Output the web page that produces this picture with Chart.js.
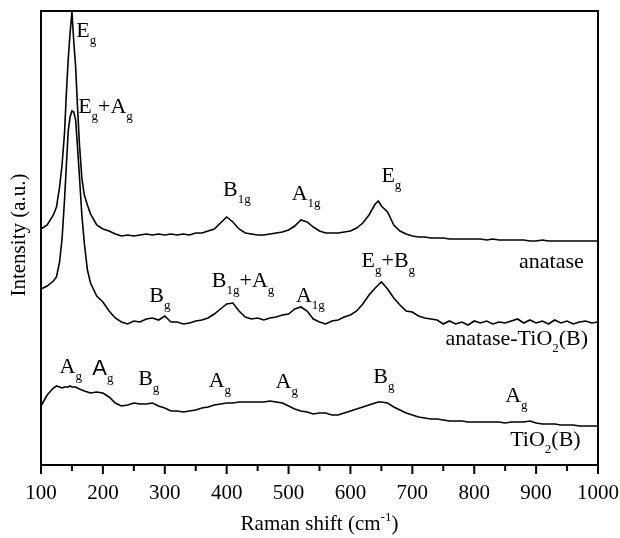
<!DOCTYPE html>
<html>
<head>
<meta charset="utf-8">
<title>Raman spectra</title>
<script src="https://cdn.jsdelivr.net/npm/chart.js@4.4.1/dist/chart.umd.min.js"></script>
<style>
  html, body { margin: 0; padding: 0; background: #fff; }
  #wrap { width: 620px; height: 538px; position: relative; }
</style>
</head>
<body>
<div id="wrap"><canvas id="raman"></canvas></div>
<script>
// Raman shift (cm-1), denser around the strong 150 band
const shift = [100,110,120,125,130,134,138,141,144,147,150,153,156,159,162,166,170,175,180,190,
  200,210,220,230,240,250,260,270,280,290,300,310,320,330,340,350,360,370,380,390,
  400,410,420,430,440,450,460,470,480,490,500,510,520,530,540,550,560,570,580,590,
  600,610,620,630,640,645,650,660,670,680,690,700,710,720,730,740,750,760,770,780,790,
  800,810,820,830,840,850,860,870,880,890,900,910,920,930,940,950,960,970,980,990,1000];

// intensities (a.u., curves already offset as in the figure)
const anatase = [236,240,250,258,278,300,332,372,406,432,453,423,398,358,322,287,270,260,251,240,
  236,234,231,229,230,229,230,231,230,231,230,231,230,231,230,232,232,234,236,242,
  248,243,236,232,231,230,230,231,232,233,235,239,245,243,238,234,232,232,232,233,
  234,237,242,250,261,264,259,253,240,234,231,229,228,228,227,227,227,226,226,226,226,
  226,226,225,226,225,225,225,225,225,224,224,225,224,224,224,224,224,224,224,224,224];

const anataseTiO2B = [176,179,184,188,203,226,265,300,334,348,354,353,345,318,290,250,222,195,182,169,
  163,154,147,143,141,144,143,146,147,145,149,143,143,141,142,144,145,147,151,156,
  161,162,154,148,146,147,145,147,148,150,151,156,158,154,146,143,141,144,145,148,
  150,154,161,170,177,180,183,176,167,160,154,153,149,147,146,145,141,144,141,143,140,
  144,142,144,141,143,142,144,146,142,145,142,144,141,145,142,144,141,143,144,142,143];

const tio2B = [59,70,77,79,78,77,78,78,78,79,78,78,78,77,76,75,74,73,72,73,
  72,68,62,59,60,62,61,61,62,59,57,54,54,53,54,55,57,58,60,61,
  62,62,63,63,63,63,63,64,63,62,59,56,54,53,51,52,52,50,50,52,
  54,56,58,60,62,63,63,62,58,55,52,50,48,47,46,46,45,44,44,44,43,
  43,43,43,43,43,42,43,43,43,44,42,41,41,41,40,40,40,39,39,39,39];

const xTicks = [100,200,300,400,500,600,700,800,900,1000];

// peak / curve labels: [main text, subscript] pieces, anchored at (shift, intensity)
const peakLabels = [
  [['E','g']], [['E','g'],['+A','g']],
  [['B','1g']], [['A','1g']], [['E','g']], [['anatase','']],
  [['B','g']], [['B','1g'],['+A','g']], [['A','1g']], [['E','g'],['+B','g']], [['anatase-TiO','2'],['(B)','']],
  [['A','g']], [['A','g']], [['B','g']], [['A','g']], [['A','g']], [['B','g']], [['A','g']], [['TiO','2'],['(B)','']]
];
const peakLabelX = [157,160, 394,505,650,977, 275,376,512,618,984, 130,183,257,371,479,637,850,972];
const peakLabelY = [428,352, 269,265,283,197, 163,178,163,198,120, 92,90,80,78,77,82,63,19];
const rightAligned = [5, 10, 18];
const sansLabel = 12;

const SERIF = '"Liberation Serif", "Times New Roman", serif';

function toPoints(ys) {
  return shift.map((x, i) => ({ x: x, y: ys[i] }));
}

function drawPieces(ctx, pieces, px, py, alignRight, mainFont) {
  const subFont = '13px ' + SERIF;
  let total = 0;
  const parts = pieces.map(([m, s]) => {
    ctx.font = mainFont;
    const mw = ctx.measureText(m).width;
    ctx.font = subFont;
    const sw = s ? ctx.measureText(s).width : 0;
    total += mw + sw;
    return { m, s, mw, sw };
  });
  let cx = alignRight ? px - total : px;
  parts.forEach(p => {
    ctx.font = mainFont;
    ctx.fillText(p.m, cx, py);
    cx += p.mw;
    if (p.s) {
      ctx.font = subFont;
      ctx.fillText(p.s, cx, py + 7);
      cx += p.sw;
    }
  });
}

const decor = {
  id: 'decor',
  afterDraw(chart) {
    const { ctx, chartArea: a, scales: { x, y } } = chart;
    ctx.save();
    ctx.strokeStyle = '#000';
    ctx.fillStyle = '#000';

    // box
    ctx.lineWidth = 2;
    ctx.strokeRect(a.left, a.top, a.right - a.left, a.bottom - a.top);

    // tick marks below the axis, minor every 50
    ctx.lineWidth = 2;
    for (let v = 100; v <= 1000; v += 50) {
      const px = x.getPixelForValue(v);
      const len = v % 100 === 0 ? 9 : 6;
      ctx.beginPath();
      ctx.moveTo(px, a.bottom);
      ctx.lineTo(px, a.bottom + len);
      ctx.stroke();
    }

    // peak labels
    ctx.textBaseline = 'alphabetic';
    ctx.textAlign = 'left';
    peakLabels.forEach((pieces, i) => {
      const px = x.getPixelForValue(peakLabelX[i]);
      const py = y.getPixelForValue(peakLabelY[i]);
      const font = i === sansLabel ? '22px "Liberation Sans", Arial, sans-serif' : '22px ' + SERIF;
      drawPieces(ctx, pieces, px, py, rightAligned.includes(i), font);
    });

    // x title with superscript
    const main = 'Raman shift (cm';
    const sup = '-1';
    const tail = ')';
    ctx.font = '21px ' + SERIF;
    const w1 = ctx.measureText(main).width;
    const w3 = ctx.measureText(tail).width;
    ctx.font = '13px ' + SERIF;
    const w2 = ctx.measureText(sup).width;
    let tx = (a.left + a.right) / 2 - (w1 + w2 + w3) / 2;
    const ty = 530;
    ctx.font = '21px ' + SERIF;
    ctx.fillText(main, tx, ty);
    tx += w1;
    ctx.font = '13px ' + SERIF;
    ctx.fillText(sup, tx, ty - 9);
    tx += w2;
    ctx.font = '21px ' + SERIF;
    ctx.fillText(tail, tx, ty);

    // y title
    ctx.translate(19, (a.top + a.bottom) / 2 - 3);
    ctx.rotate(-Math.PI / 2);
    ctx.textAlign = 'center';
    ctx.textBaseline = 'middle';
    ctx.font = '21px ' + SERIF;
    ctx.fillText('Intensity (a.u.)', 0, 0);
    ctx.restore();
  }
};

const lineStyle = {
  borderColor: '#000',
  borderWidth: 1.6,
  pointRadius: 0,
  tension: 0,
  fill: false
};

new Chart(document.getElementById('raman'), {
  type: 'line',
  data: {
    datasets: [
      Object.assign({ label: 'anatase', data: toPoints(anatase) }, lineStyle),
      Object.assign({ label: 'anatase-TiO2(B)', data: toPoints(anataseTiO2B) }, lineStyle),
      Object.assign({ label: 'TiO2(B)', data: toPoints(tio2B) }, lineStyle)
    ]
  },
  options: {
    responsive: true,
    maintainAspectRatio: false,
    devicePixelRatio: 1,
    animation: false,
    layout: { padding: { top: 11, right: 22, left: 0, bottom: 0 } },
    plugins: { legend: { display: false }, tooltip: { enabled: false } },
    scales: {
      x: {
        type: 'linear',
        min: 100,
        max: 1000,
        afterBuildTicks: s => { s.ticks = xTicks.map(v => ({ value: v })); },
        afterFit: s => { s.height = 73; s.paddingLeft = 0; s.paddingRight = 0; },
        grid: { display: false, drawTicks: false },
        border: { display: false },
        ticks: {
          color: '#000',
          padding: 16,
          maxRotation: 0,
          autoSkip: false,
          callback: v => String(v),
          font: { family: SERIF, size: 21 }
        }
      },
      y: {
        min: 0,
        max: 454,
        afterFit: s => { s.width = 41; },
        grid: { display: false, drawTicks: false },
        border: { display: false },
        ticks: { display: false }
      }
    }
  },
  plugins: [decor]
});
</script>
</body>
</html>
